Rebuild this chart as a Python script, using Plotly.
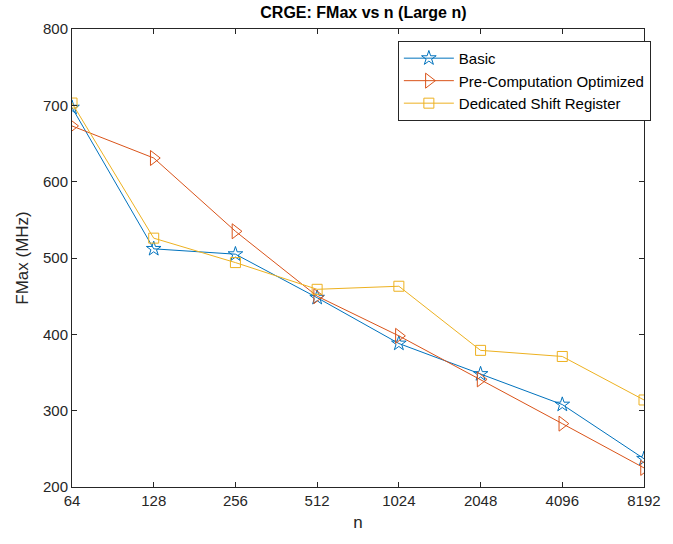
import plotly.graph_objects as go

n_labels = ["64", "128", "256", "512", "1024", "2048", "4096", "8192"]
basic = [697, 512, 505, 448, 388, 348, 308, 237]
precomp = [673, 631, 535, 450, 398, 341, 283, 225]
dsr = [703, 526, 494, 459, 463, 379, 371, 314]

fig = go.Figure()
fig.add_trace(go.Scatter(x=n_labels, y=basic, name="Basic", mode="lines+markers",
                         line=dict(color="#0072BD", width=1),
                         marker=dict(symbol="star-open", size=11, color="#0072BD", line=dict(width=1))))
fig.add_trace(go.Scatter(x=n_labels, y=precomp, name="Pre-Computation Optimized", mode="lines+markers",
                         line=dict(color="#D95319", width=1),
                         marker=dict(symbol="triangle-right-open", size=13, color="#D95319", line=dict(width=1))))
fig.add_trace(go.Scatter(x=n_labels, y=dsr, name="Dedicated Shift Register", mode="lines+markers",
                         line=dict(color="#EDB120", width=1),
                         marker=dict(symbol="square-open", size=10, color="#EDB120", line=dict(width=1))))

axis_common = dict(showline=True, linecolor="#262626", linewidth=1, mirror="ticks",
                   ticks="inside", ticklen=5, tickcolor="#262626", showgrid=False, zeroline=False,
                   tickfont=dict(family="Liberation Sans, Arial", size=15, color="#262626"))

fig.update_layout(
    width=673, height=544,
    margin=dict(l=72, r=18, t=29, b=57),
    paper_bgcolor="white", plot_bgcolor="white",
    title=dict(text="<b>CRGE: FMax vs n (Large n)</b>", x=0.54, xanchor="center", y=0.978, yanchor="middle",
               font=dict(family="Liberation Sans, Arial", size=16, color="black")),
    xaxis=dict(type="category", range=[0, 7], title=dict(text="n", standoff=8,
               font=dict(family="Liberation Sans, Arial", size=17, color="#262626")), **axis_common),
    yaxis=dict(range=[200, 800], dtick=100, title=dict(text="FMax (MHz)", standoff=10,
               font=dict(family="Liberation Sans, Arial", size=17, color="#262626")), **axis_common),
    legend=dict(x=1.012, y=0.974, xanchor="right", yanchor="top", bordercolor="#262626", borderwidth=1,
                bgcolor="white", font=dict(family="Liberation Sans, Arial", size=15, color="black"),
                tracegroupgap=0, itemwidth=50),
    showlegend=True,
)

fig.write_html("out.html")
